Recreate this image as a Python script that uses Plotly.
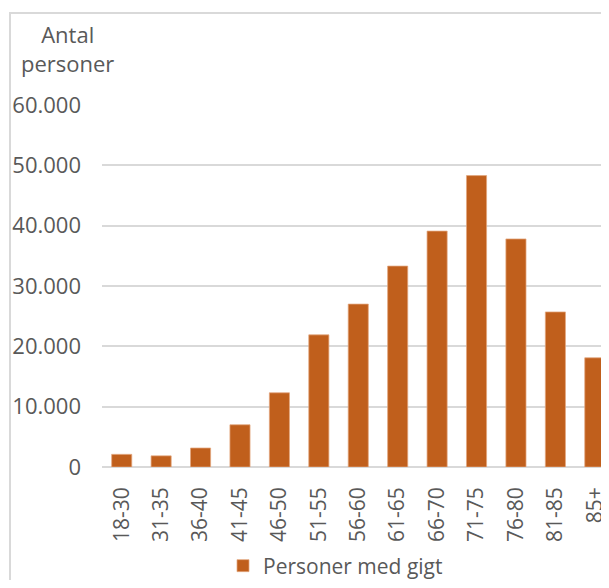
import plotly.graph_objects as go

categories = ["18-30", "31-35", "36-40", "41-45", "46-50", "51-55", "56-60",
              "61-65", "66-70", "71-75", "76-80", "81-85", "85+"]
persons = [2100, 1850, 3150, 7000, 12300, 21900, 27000, 33300, 39100, 48300, 37800, 25700, 18100]
series_name = "Personer med gigt"
y_title = "Antal<br>personer"

# page has an 8px body margin; figure coordinates = page px - 8
OFF = 8
W, H = 601, 572
ML, MR, MT, MB = 94, 0, 97, 113
PW, PH = W - ML - MR, H - MT - MB

def px_x(page_px):
    return (page_px - OFF - ML) / PW

def px_y(page_py):
    return (H - MB - (page_py - OFF)) / PH

font_family = "Open Sans"
txt_color = "#595959"
grid_color = "#D9D9D9"

fig = go.Figure()
fig.add_trace(go.Bar(
    x=categories, y=persons, name=series_name,
    marker=dict(color="#C05F1C", line=dict(color="#E3A77F", width=0.75)),
    showlegend=True,
))

fig.update_layout(
    width=W, height=H,
    margin=dict(l=ML, r=MR, t=MT, b=MB, pad=0, autoexpand=False),
    paper_bgcolor="white", plot_bgcolor="white",
    separators=",.",
    bargap=0.49,
    font=dict(family=font_family, size=21, color=txt_color),
    showlegend=True,
    legend=dict(orientation="h", x=px_x(223), xanchor="left",
                y=px_y(566), yanchor="middle",
                font=dict(family=font_family, size=21, color=txt_color),
                itemwidth=30, bgcolor="rgba(0,0,0,0)"),
    xaxis=dict(type="category", range=[-0.5, 12.36], tickangle=-90,
               showgrid=False, showline=False, zeroline=False, automargin=False,
               ticks="", ticklabelstandoff=15,
               tickfont=dict(family=font_family, size=21, color=txt_color)),
    yaxis=dict(range=[0, 60000], dtick=10000, tick0=0, tickformat=",d",
               showgrid=True, gridcolor=grid_color, gridwidth=2,
               zeroline=True, zerolinecolor=grid_color, zerolinewidth=2,
               showline=False, ticks="", ticklabelstandoff=20, automargin=False,
               tickfont=dict(family=font_family, size=22, color=txt_color)),
    shapes=[dict(type="rect", xref="paper", yref="paper",
                 x0=px_x(10), x1=px_x(700), y0=px_y(700), y1=px_y(13),
                 line=dict(color=grid_color, width=2), fillcolor="rgba(0,0,0,0)",
                 layer="below")],
    annotations=[dict(text=y_title, xref="paper", yref="paper",
                      x=px_x(67), y=px_y(17), xanchor="center", yanchor="top",
                      showarrow=False, align="center",
                      font=dict(family=font_family, size=22, color=txt_color))],
)

fig.write_html("out.html")
